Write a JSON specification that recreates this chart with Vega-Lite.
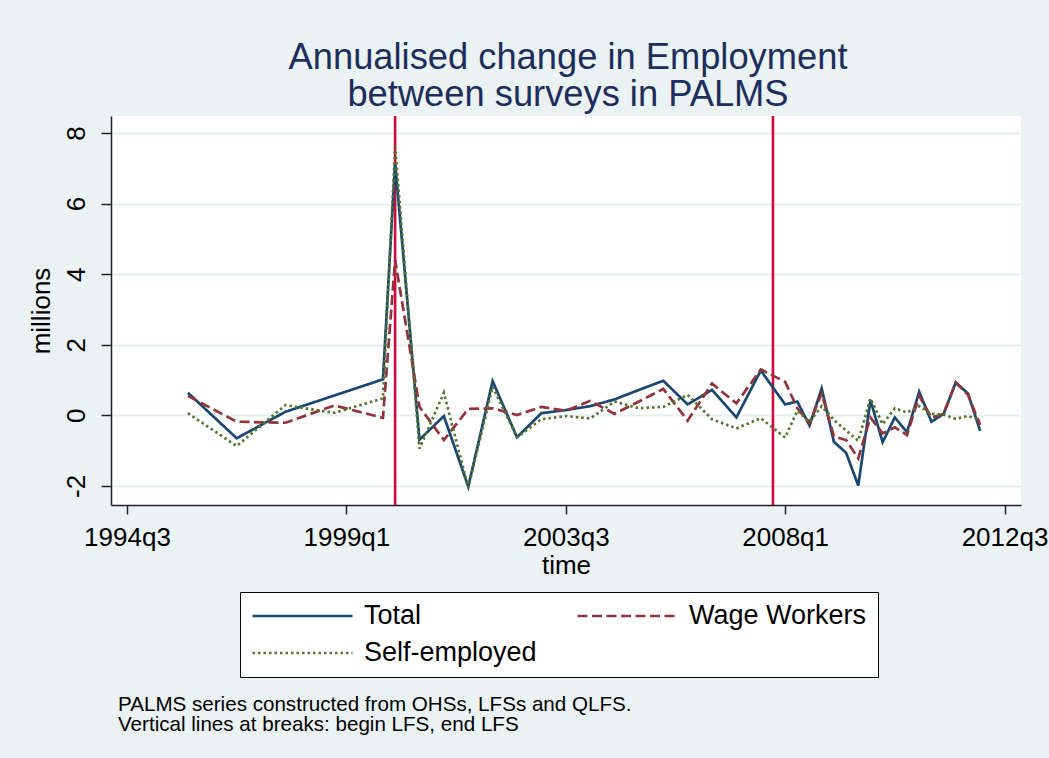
{
  "$schema": "https://vega.github.io/schema/vega-lite/v6.json",
  "background": "#eaf2f3",
  "padding": {"left": 28, "top": 39, "right": 10, "bottom": 40},
  "title": {
    "text": ["PALMS series constructed from OHSs, LFSs and QLFS.", "Vertical lines at breaks: begin LFS, end LFS"],
    "orient": "bottom",
    "anchor": "start",
    "frame": "bounds",
    "font": "Liberation Sans",
    "fontSize": 20.6,
    "fontWeight": "normal",
    "color": "black",
    "lineHeight": 20.6,
    "dx": 90,
    "offset": 17
  },
  "resolve": {"scale": {"color": "independent", "strokeDash": "independent"}, "legend": {"color": "independent", "strokeDash": "independent"}},
  "vconcat": [
    {
      "width": 910,
      "height": 389,
      "title": {
        "text": ["Annualised change in Employment", "between surveys in PALMS"],
        "anchor": "middle",
        "frame": "group",
        "font": "Liberation Sans",
        "fontSize": 36.3,
        "fontWeight": "normal",
        "color": "#1e2d5c",
        "lineHeight": 37.5,
        "offset": 1,
        "dx": 2
      },
      "layer": [
        {
          "data": {"values": [{"t": 2000.0}, {"t": 2007.75}]},
          "mark": {"type": "rule", "color": "#d10a40", "strokeWidth": 2.6},
          "encoding": {
            "x": {"field": "t", "type": "quantitative", "scale": {"domain": [1994.172, 2012.838], "nice": false, "zero": false}}
          }
        },
        {
          "data": {"values": [
            {"t": 1995.75, "series": "Total", "v": 0.64},
            {"t": 1996.75, "series": "Total", "v": -0.65},
            {"t": 1997.75, "series": "Total", "v": 0.10},
            {"t": 1998.75, "series": "Total", "v": 0.56},
            {"t": 1999.75, "series": "Total", "v": 1.02},
            {"t": 2000.0, "series": "Total", "v": 7.15},
            {"t": 2000.5, "series": "Total", "v": -0.69},
            {"t": 2001.0, "series": "Total", "v": -0.02},
            {"t": 2001.5, "series": "Total", "v": -2.02},
            {"t": 2002.0, "series": "Total", "v": 0.97},
            {"t": 2002.5, "series": "Total", "v": -0.62},
            {"t": 2003.0, "series": "Total", "v": 0.06},
            {"t": 2003.5, "series": "Total", "v": 0.15},
            {"t": 2004.0, "series": "Total", "v": 0.26},
            {"t": 2004.5, "series": "Total", "v": 0.45},
            {"t": 2005.0, "series": "Total", "v": 0.72},
            {"t": 2005.5, "series": "Total", "v": 0.98},
            {"t": 2006.0, "series": "Total", "v": 0.31},
            {"t": 2006.5, "series": "Total", "v": 0.72},
            {"t": 2007.0, "series": "Total", "v": -0.06},
            {"t": 2007.5, "series": "Total", "v": 1.27},
            {"t": 2008.0, "series": "Total", "v": 0.31},
            {"t": 2008.25, "series": "Total", "v": 0.39},
            {"t": 2008.5, "series": "Total", "v": -0.29},
            {"t": 2008.75, "series": "Total", "v": 0.76},
            {"t": 2009.0, "series": "Total", "v": -0.75},
            {"t": 2009.25, "series": "Total", "v": -1.06},
            {"t": 2009.5, "series": "Total", "v": -1.99},
            {"t": 2009.75, "series": "Total", "v": 0.43},
            {"t": 2010.0, "series": "Total", "v": -0.76},
            {"t": 2010.25, "series": "Total", "v": -0.06},
            {"t": 2010.5, "series": "Total", "v": -0.48},
            {"t": 2010.75, "series": "Total", "v": 0.67},
            {"t": 2011.0, "series": "Total", "v": -0.18},
            {"t": 2011.25, "series": "Total", "v": 0.04},
            {"t": 2011.5, "series": "Total", "v": 0.93},
            {"t": 2011.75, "series": "Total", "v": 0.62},
            {"t": 2012.0, "series": "Total", "v": -0.44},
            {"t": 1995.75, "series": "Wage Workers", "v": 0.55},
            {"t": 1996.75, "series": "Wage Workers", "v": -0.18},
            {"t": 1997.75, "series": "Wage Workers", "v": -0.21},
            {"t": 1998.75, "series": "Wage Workers", "v": 0.28},
            {"t": 1999.75, "series": "Wage Workers", "v": -0.07},
            {"t": 2000.0, "series": "Wage Workers", "v": 4.4},
            {"t": 2000.5, "series": "Wage Workers", "v": 0.24},
            {"t": 2001.0, "series": "Wage Workers", "v": -0.70},
            {"t": 2001.5, "series": "Wage Workers", "v": 0.18},
            {"t": 2002.0, "series": "Wage Workers", "v": 0.20},
            {"t": 2002.5, "series": "Wage Workers", "v": 0.01},
            {"t": 2003.0, "series": "Wage Workers", "v": 0.24},
            {"t": 2003.5, "series": "Wage Workers", "v": 0.13},
            {"t": 2004.0, "series": "Wage Workers", "v": 0.41},
            {"t": 2004.5, "series": "Wage Workers", "v": 0.04},
            {"t": 2005.0, "series": "Wage Workers", "v": 0.39},
            {"t": 2005.5, "series": "Wage Workers", "v": 0.75},
            {"t": 2006.0, "series": "Wage Workers", "v": -0.15},
            {"t": 2006.5, "series": "Wage Workers", "v": 0.90},
            {"t": 2007.0, "series": "Wage Workers", "v": 0.34},
            {"t": 2007.5, "series": "Wage Workers", "v": 1.30},
            {"t": 2008.0, "series": "Wage Workers", "v": 0.95},
            {"t": 2008.25, "series": "Wage Workers", "v": 0.20},
            {"t": 2008.5, "series": "Wage Workers", "v": -0.21},
            {"t": 2008.75, "series": "Wage Workers", "v": 0.62},
            {"t": 2009.0, "series": "Wage Workers", "v": -0.60},
            {"t": 2009.25, "series": "Wage Workers", "v": -0.70},
            {"t": 2009.5, "series": "Wage Workers", "v": -1.22},
            {"t": 2009.75, "series": "Wage Workers", "v": -0.06},
            {"t": 2010.0, "series": "Wage Workers", "v": -0.51},
            {"t": 2010.25, "series": "Wage Workers", "v": -0.34},
            {"t": 2010.5, "series": "Wage Workers", "v": -0.56},
            {"t": 2010.75, "series": "Wage Workers", "v": 0.55},
            {"t": 2011.0, "series": "Wage Workers", "v": -0.06},
            {"t": 2011.25, "series": "Wage Workers", "v": 0.04},
            {"t": 2011.5, "series": "Wage Workers", "v": 0.93},
            {"t": 2011.75, "series": "Wage Workers", "v": 0.58},
            {"t": 2012.0, "series": "Wage Workers", "v": -0.27},
            {"t": 1995.75, "series": "Self-employed", "v": 0.06},
            {"t": 1996.75, "series": "Self-employed", "v": -0.87},
            {"t": 1997.75, "series": "Self-employed", "v": 0.29},
            {"t": 1998.75, "series": "Self-employed", "v": 0.07},
            {"t": 1999.75, "series": "Self-employed", "v": 0.48},
            {"t": 2000.0, "series": "Self-employed", "v": 7.6},
            {"t": 2000.5, "series": "Self-employed", "v": -0.94},
            {"t": 2001.0, "series": "Self-employed", "v": 0.64},
            {"t": 2001.5, "series": "Self-employed", "v": -2.05},
            {"t": 2002.0, "series": "Self-employed", "v": 0.81},
            {"t": 2002.5, "series": "Self-employed", "v": -0.62},
            {"t": 2003.0, "series": "Self-employed", "v": -0.11},
            {"t": 2003.5, "series": "Self-employed", "v": -0.02},
            {"t": 2004.0, "series": "Self-employed", "v": -0.09},
            {"t": 2004.5, "series": "Self-employed", "v": 0.39},
            {"t": 2005.0, "series": "Self-employed", "v": 0.20},
            {"t": 2005.5, "series": "Self-employed", "v": 0.24},
            {"t": 2006.0, "series": "Self-employed", "v": 0.58},
            {"t": 2006.5, "series": "Self-employed", "v": -0.11},
            {"t": 2007.0, "series": "Self-employed", "v": -0.37},
            {"t": 2007.5, "series": "Self-employed", "v": -0.08},
            {"t": 2008.0, "series": "Self-employed", "v": -0.63},
            {"t": 2008.25, "series": "Self-employed", "v": 0.13},
            {"t": 2008.5, "series": "Self-employed", "v": -0.18},
            {"t": 2008.75, "series": "Self-employed", "v": 0.26},
            {"t": 2009.0, "series": "Self-employed", "v": -0.13},
            {"t": 2009.25, "series": "Self-employed", "v": -0.43},
            {"t": 2009.5, "series": "Self-employed", "v": -0.72},
            {"t": 2009.75, "series": "Self-employed", "v": 0.48},
            {"t": 2010.0, "series": "Self-employed", "v": -0.25},
            {"t": 2010.25, "series": "Self-employed", "v": 0.20},
            {"t": 2010.5, "series": "Self-employed", "v": 0.08},
            {"t": 2010.75, "series": "Self-employed", "v": 0.26},
            {"t": 2011.0, "series": "Self-employed", "v": 0.04},
            {"t": 2011.25, "series": "Self-employed", "v": 0.02},
            {"t": 2011.5, "series": "Self-employed", "v": -0.10},
            {"t": 2011.75, "series": "Self-employed", "v": -0.02},
            {"t": 2012.0, "series": "Self-employed", "v": -0.13}
          ]},
          "mark": {"type": "line", "strokeWidth": 2.7},
          "encoding": {
            "x": {
              "field": "t", "type": "quantitative",
              "scale": {"domain": [1994.172, 2012.838], "nice": false, "zero": false},
              "axis": {
                "values": [1994.5, 1999.0, 2003.5, 2008.0, 2012.5],
                "labelExpr": "floor(datum.value) + 'q' + (round((datum.value - floor(datum.value)) * 4) + 1)",
                "title": "time",
                "grid": false,
                "tickSize": 9,
                "labelPadding": 31.7,
                "labelBaseline": "alphabetic",
                "labelFlush": false,
                "labelOverlap": false,
                "titleBaseline": "alphabetic",
                "titleY": 68
              }
            },
            "y": {
              "field": "v", "type": "quantitative",
              "scale": {"domain": [-2.54, 8.48], "nice": false, "zero": false},
              "axis": {
                "values": [-2, 0, 2, 4, 6, 8],
                "labelExpr": "'' + datum.value",
                "title": "millions",
                "grid": true,
                "tickSize": 10,
                "labelAngle": -90,
                "labelAlign": "center",
                "labelBaseline": "alphabetic",
                "labelPadding": 17,
                "labelFlush": false,
                "labelOverlap": false,
                "titleBaseline": "alphabetic",
                "titleX": -62
              }
            },
            "color": {
              "field": "series", "type": "nominal",
              "scale": {"domain": ["Total", "Wage Workers", "Self-employed"], "range": ["#1a476f", "#90353b", "#55752f"]},
              "legend": {
                "orient": "none",
                "legendX": 129,
                "legendY": 476,
                "direction": "horizontal",
                "columns": 2,
                "gridAlign": "all",
                "title": null,
                "fillColor": "white",
                "strokeColor": "black",
                "padding": 11,
                "symbolType": "stroke",
                "symbolSize": 10000,
                "clipHeight": 26,
                "symbolStrokeWidth": 2.7,
                "labelFontSize": 27,
                "labelFont": "Liberation Sans",
                "labelColor": "black",
                "labelOffset": 10,
                "columnPadding": 34,
                "rowPadding": 10,
                "labelLimit": 400
              }
            },
            "strokeDash": {
              "field": "series", "type": "nominal",
              "scale": {"domain": ["Total", "Wage Workers", "Self-employed"], "range": [[1, 0], [10, 4.5], [2.5, 3]]},
              "legend": null
            }
          }
        }
      ]
    }
  ],
  "config": {
    "font": "Liberation Sans",
    "view": {"stroke": null, "fill": "white"},
    "axis": {
      "domainColor": "#222222",
      "domainWidth": 1.5,
      "tickColor": "#222222",
      "tickWidth": 1.5,
      "labelColor": "black",
      "titleColor": "black",
      "labelFont": "Liberation Sans",
      "titleFont": "Liberation Sans",
      "labelFontSize": 26,
      "titleFontSize": 26,
      "titleFontWeight": "normal",
      "gridColor": "#e6eff2",
      "gridWidth": 2
    }
  }
}
